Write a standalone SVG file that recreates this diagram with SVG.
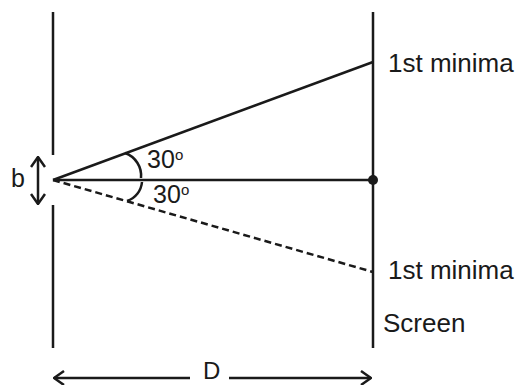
<svg xmlns="http://www.w3.org/2000/svg" width="516" height="385" viewBox="0 0 516 385">
<defs>
<style>
.ln{stroke:#1a1a1a;stroke-width:2.5;fill:none}
.ds{stroke:#1a1a1a;stroke-width:2.5;fill:none;stroke-dasharray:7 4}
.t{font-family:"Liberation Sans",Arial,sans-serif;font-size:25px;fill:#1a1a1a}
.big{font-size:26px}
.sup{font-family:"Liberation Sans",Arial,sans-serif;font-size:15px;fill:#1a1a1a}
</style>
<marker id="chev" viewBox="0 0 12 16" refX="11" refY="8" markerWidth="12" markerHeight="16" markerUnits="userSpaceOnUse" orient="auto-start-reverse">
<path d="M1,1 L11,8 L1,15" fill="none" stroke="#1a1a1a" stroke-width="2.5"/>
</marker>
</defs>
<g id="slit">
<line class="ln" x1="53" y1="12" x2="53" y2="155"/>
<line class="ln" x1="53" y1="205" x2="53" y2="348"/>
</g>
<g id="screen">
<line class="ln" x1="373" y1="12" x2="373" y2="348"/>
<circle cx="373" cy="180" r="5" fill="#1a1a1a"/>
<text class="t big" x="383" y="332">Screen</text>
</g>
<g id="connectors">
<line class="ln" x1="53" y1="180" x2="373" y2="180"/>
<line class="ln" x1="53" y1="180" x2="373" y2="62"/>
<line class="ds" x1="53" y1="180" x2="373" y2="272"/>
<path class="ln" d="M125,153 A24,24 0 0 1 141,178"/>
<path class="ln" d="M142,182 A22,22 0 0 1 127,201"/>
<line class="ln" x1="38" y1="157" x2="38" y2="204" marker-start="url(#chev)" marker-end="url(#chev)"/>
<line class="ln" x1="54" y1="378" x2="190" y2="378" marker-start="url(#chev)"/>
<line class="ln" x1="229" y1="378" x2="371" y2="378" marker-end="url(#chev)"/>
</g>
<g id="labels">
<text class="t big" x="388" y="72">1st minima</text>
<text class="t big" x="388" y="279">1st minima</text>
<text class="t" x="147" y="168">30</text>
<text class="sup" x="175" y="160">o</text>
<text class="t" x="153" y="203">30</text>
<text class="sup" x="181" y="195">o</text>
<text class="t" x="11" y="187">b</text>
<text class="t" style="font-size:24px" x="203" y="379">D</text>
</g>
</svg>
